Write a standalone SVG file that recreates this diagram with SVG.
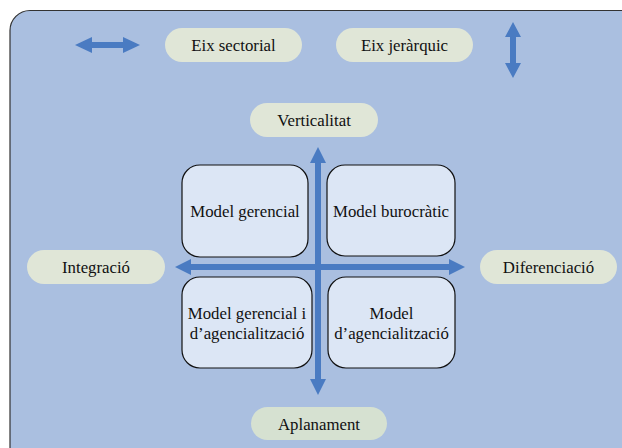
<svg xmlns="http://www.w3.org/2000/svg" width="622" height="448" viewBox="0 0 622 448">
  <style>
    .panel { fill: #AABFE0; stroke: #333333; stroke-width: 1.2; }
    .pill { fill: #E0E6D7; }
    .pill.green { fill: #D6E1D1; }
    .quad { fill: #DCE6F5; stroke: #111111; stroke-width: 1.2; }
    .arrow { fill: #4A7BC2; }
    .lbl text { font-family: 'Liberation Serif', 'Times New Roman', serif; font-size: 16.8px; fill: #111111; text-anchor: middle; }
  </style>

  <!-- background panel -->
  <rect class="panel" x="10" y="10.5" width="640" height="470" rx="20" ry="20"/>

  <g class="lbl">
    <!-- axis legend -->
    <g id="legend-sectorial">
      <rect class="pill" x="165" y="28" width="137" height="34" rx="17"/>
      <text x="233.5" y="51">Eix sectorial</text>
    </g>
    <g id="legend-jerarquic">
      <rect class="pill" x="336" y="28" width="137" height="34" rx="17"/>
      <text x="404.5" y="51">Eix jeràrquic</text>
    </g>

    <!-- axis end labels -->
    <g id="verticalitat">
      <rect class="pill" x="250" y="103" width="128" height="34" rx="17"/>
      <text x="314" y="126">Verticalitat</text>
    </g>
    <g id="aplanament">
      <rect class="pill green" x="251" y="407" width="136" height="33" rx="16.5"/>
      <text x="319" y="429.5">Aplanament</text>
    </g>
    <g id="integracio">
      <rect class="pill" x="27" y="250" width="138" height="34" rx="17"/>
      <text x="96" y="273">Integració</text>
    </g>
    <g id="diferenciacio">
      <rect class="pill" x="480" y="250" width="137" height="34" rx="17"/>
      <text x="548.5" y="273">Diferenciació</text>
    </g>

    <!-- quadrants -->
    <g id="model-gerencial">
      <rect class="quad" x="182" y="165" width="126" height="92" rx="18"/>
      <text x="245" y="217">Model gerencial</text>
    </g>
    <g id="model-burocratic">
      <rect class="quad" x="327" y="165" width="128" height="91" rx="18"/>
      <text x="391" y="217">Model burocràtic</text>
    </g>
    <g id="model-gerencial-agencialitzacio">
      <rect class="quad" x="182" y="277" width="130" height="91" rx="18"/>
      <text x="247" y="319">Model gerencial i</text>
      <text x="247" y="338.5">d’agencialització</text>
    </g>
    <g id="model-agencialitzacio">
      <rect class="quad" x="328" y="277" width="127" height="91" rx="18"/>
      <text x="391.5" y="319">Model</text>
      <text x="391.5" y="338.5">d’agencialització</text>
    </g>
  </g>

  <!-- connectors: double-headed block arrows -->
  <g id="connectors">
    <polygon class="arrow" points="75,45 92,37 92,42 123,42 123,37 140,45 123,53 123,48 92,48 92,53"/>
    <polygon class="arrow" points="513,22 521,37 516,37 516,63 521,63 513,78 505,63 510,63 510,37 505,37"/>
    <polygon class="arrow" points="175,267 191,259 191,264 449,264 449,259 465,267 449,275 449,270 191,270 191,275"/>
    <polygon class="arrow" points="318,147 326,163 321,163 321,379 326,379 318,395 310,379 315,379 315,163 310,163"/>
  </g>
</svg>
